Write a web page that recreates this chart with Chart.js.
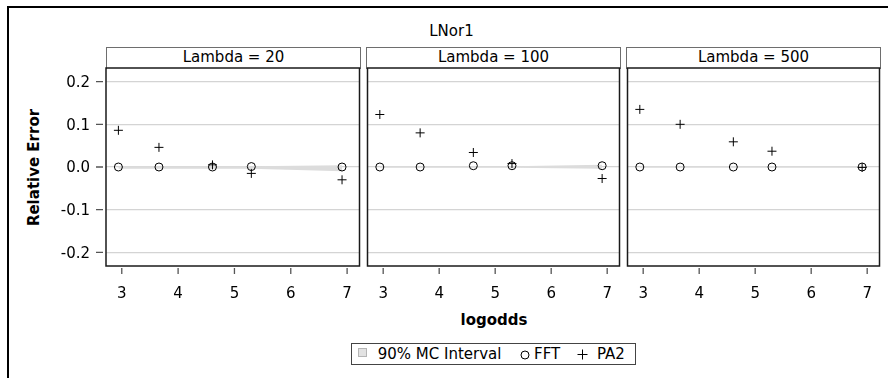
<!DOCTYPE html>
<html>
<head>
<meta charset="utf-8">
<script src="https://cdn.jsdelivr.net/npm/chart.js@4.4.1/dist/chart.umd.min.js"></script>
<style>
  html, body { margin: 0; padding: 0; background: #fff; overflow: hidden; }
  #wrap { position: relative; width: 888px; height: 378px; overflow: hidden;
          font-family: "DejaVu Sans", Verdana, sans-serif; color: #000; }
  .frame { position: absolute; left: 7px; top: 6px; width: 890px; height: 380px;
           border-top: 2px solid #000; border-left: 2px solid #000; box-sizing: border-box; }
  .t { position: absolute; font-size: 15px; line-height: 15px; white-space: nowrap; }
  .b { font-weight: bold; }
  .hdr { position: absolute; top: 47px; height: 22px; box-sizing: border-box;
         border: 1px solid #6e6e6e; border-bottom: none; background: #fff; }
  canvas { position: absolute; }
  .legend { position: absolute; left: 351px; top: 343px; width: 285px; height: 22px;
            box-sizing: border-box; border: 1px solid #444; }
  .sw { position: absolute; left: 358px; top: 348px; width: 9px; height: 9px;
        box-sizing: border-box; background: #e2e2e2; border: 1px solid #b5b5b5; }
  svg.sym { position: absolute; }
</style>
</head>
<body>
<div id="wrap">
  <div class="frame"></div>
  <div class="t" style="left:351.5px; top:24px; width:200px; text-align:center;">LNor1</div>
  <div id="headers"></div>
  <div class="t b" style="left:-31px; top:160px; width:130px; text-align:center; transform:rotate(-90deg); transform-origin:65px 7.5px;">Relative Error</div>
  <div class="t b" style="left:394px; top:313px; width:200px; text-align:center;">logodds</div>

  <div class="legend"></div>
  <div class="sw"></div>
  <div class="t" style="left:377.7px; top:346.6px;">90% MC Interval</div>
  <svg class="sym" style="left:520px; top:349.5px;" width="10" height="10" viewBox="0 0 10 10">
    <circle cx="5" cy="5" r="4" fill="none" stroke="#000" stroke-width="1"/>
  </svg>
  <div class="t" style="left:534px; top:346.6px;">FFT</div>
  <svg class="sym" style="left:577px; top:349px;" width="11" height="11" viewBox="0 0 11 11">
    <path d="M5.5 0.5 V10.5 M0.5 5.5 H10.5" stroke="#000" stroke-width="1" fill="none"/>
  </svg>
  <div class="t" style="left:597px; top:346.6px;">PA2</div>
</div>

<script>
// logodds positions shared by every panel
const logodds = [2.94, 3.66, 4.61, 5.30, 6.91];
const xTicks = [3, 4, 5, 6, 7];
const yTicks = [-0.2, -0.1, 0.0, 0.1, 0.2];
const lambdas = [20, 100, 500];

// Lambda = 20
const fftL20    = [0.000, 0.000, 0.000, 0.001, 0.000];
const pa2L20    = [0.086, 0.046, 0.005, -0.015, -0.030];
const mcLowL20  = [-0.004, -0.004, -0.004, -0.004, -0.010];
const mcHighL20 = [0.002, 0.002, 0.002, 0.002, 0.004];

// Lambda = 100
const fftL100    = [0.000, 0.000, 0.003, 0.003, 0.003];
const pa2L100    = [0.123, 0.080, 0.034, 0.008, -0.027];
const mcLowL100  = [-0.002, -0.002, -0.002, -0.002, -0.004];
const mcHighL100 = [0.002, 0.002, 0.002, 0.002, 0.005];

// Lambda = 500
const fftL500    = [0.000, 0.000, 0.000, 0.000, 0.000];
const pa2L500    = [0.135, 0.100, 0.059, 0.037, -0.001];
const mcLowL500  = [-0.0015, -0.0015, -0.0015, -0.0015, -0.0015];
const mcHighL500 = [0.0015, 0.0015, 0.0015, 0.0015, 0.0015];

const panelSeries = [
  { fft: fftL20,  pa2: pa2L20,  lo: mcLowL20,  hi: mcHighL20 },
  { fft: fftL100, pa2: pa2L100, lo: mcLowL100, hi: mcHighL100 },
  { fft: fftL500, pa2: pa2L500, lo: mcLowL500, hi: mcHighL500 }
];

// page geometry of the three plot areas
const panelLeft = [106, 366, 626];
const panelWidth = 255;
const plotTop = 68, plotBottom = 266;
const xAxisHeight = 40;

Chart.defaults.font.family = '"DejaVu Sans", Verdana, sans-serif';
Chart.defaults.font.size = 15;
Chart.defaults.color = '#000';

const toXY = arr => arr.map((v, i) => ({ x: logodds[i], y: v }));

// tick marks (detached from the frame) and the dark plot frame
const panelDecor = {
  id: 'panelDecor',
  afterDraw(chart, args, opts) {
    const { ctx, chartArea: a, scales } = chart;
    ctx.save();
    ctx.strokeStyle = '#555';
    ctx.lineWidth = 1.3;
    ctx.beginPath();
    scales.x.ticks.forEach(t => {
      const px = scales.x.getPixelForValue(t.value);
      ctx.moveTo(px, a.bottom + 2);
      ctx.lineTo(px, a.bottom + 8);
    });
    if (opts.yTicks) {
      scales.y.ticks.forEach(t => {
        const py = scales.y.getPixelForValue(t.value);
        ctx.moveTo(a.left - 10, py);
        ctx.lineTo(a.left - 3, py);
      });
    }
    ctx.stroke();
    ctx.strokeStyle = '#1a1a1a';
    ctx.lineWidth = 1.5;
    ctx.strokeRect(a.left, a.top, a.right - a.left, a.bottom - a.top);
    ctx.restore();
  }
};

const wrap = document.getElementById('wrap');
const headers = document.getElementById('headers');

lambdas.forEach((lam, p) => {
  const first = p === 0;
  const padL = first ? 0 : 4, padR = 4, padT = 8;
  const yAxisW = first ? panelLeft[0] : 0;
  const cw = padL + yAxisW + panelWidth + padR;
  const ch = padT + (plotBottom - plotTop) + xAxisHeight;

  // strip header above the plot
  const h = document.createElement('div');
  h.className = 'hdr';
  h.style.left = panelLeft[p] + 'px';
  h.style.width = panelWidth + 'px';
  headers.appendChild(h);
  const ht = document.createElement('div');
  ht.className = 't';
  ht.style.left = panelLeft[p] + 'px';
  ht.style.width = panelWidth + 'px';
  ht.style.top = '50px';
  ht.style.textAlign = 'center';
  ht.textContent = 'Lambda = ' + lam;
  headers.appendChild(ht);

  const cv = document.createElement('canvas');
  cv.width = cw; cv.height = ch;
  cv.style.left = (panelLeft[p] - yAxisW - padL) + 'px';
  cv.style.top = (plotTop - padT) + 'px';
  cv.style.width = cw + 'px'; cv.style.height = ch + 'px';
  wrap.appendChild(cv);

  const s = panelSeries[p];
  new Chart(cv, {
    type: 'line',
    data: {
      datasets: [
        { label: '90% MC Interval', data: toXY(s.hi), borderWidth: 0, borderColor: 'rgba(0,0,0,0)',
          pointRadius: 0, fill: '+1', backgroundColor: '#dcdcdc', order: 3 },
        { label: '90% MC Interval low', data: toXY(s.lo), borderWidth: 0, borderColor: 'rgba(0,0,0,0)',
          pointRadius: 0, fill: false, order: 3 },
        { label: 'FFT', data: toXY(s.fft), showLine: false, pointStyle: 'circle', pointRadius: 4,
          pointBorderColor: '#000', pointBackgroundColor: 'rgba(0,0,0,0)', pointBorderWidth: 1, order: 2 },
        { label: 'PA2', data: toXY(s.pa2), showLine: false, pointStyle: 'cross', pointRadius: 4.5,
          pointBorderColor: '#000', pointBorderWidth: 1, order: 1 }
      ]
    },
    options: {
      responsive: false,
      animation: false,
      devicePixelRatio: 1,
      layout: { padding: { left: padL, right: padR, top: padT, bottom: 0 } },
      plugins: { legend: { display: false }, tooltip: { enabled: false }, panelDecor: { yTicks: first } },
      elements: { line: { tension: 0 } },
      scales: {
        x: {
          type: 'linear', min: 2.72, max: 7.22,
          afterBuildTicks: sc => { sc.ticks = xTicks.map(v => ({ value: v })); },
          afterFit: sc => { sc.height = xAxisHeight; sc.paddingLeft = 0; sc.paddingRight = 0; },
          grid: { display: false },
          border: { display: false },
          ticks: { padding: 11, maxRotation: 0, autoSkip: false, callback: v => String(v) }
        },
        y: {
          type: 'linear', min: -0.232, max: 0.232,
          afterBuildTicks: sc => { sc.ticks = yTicks.map(v => ({ value: v })); },
          afterFit: sc => { sc.width = yAxisW; sc.paddingTop = 0; sc.paddingBottom = 0; },
          grid: { color: '#d4d4d4', lineWidth: 1.2, drawTicks: false },
          border: { display: false },
          ticks: { display: first, padding: 16, labelOffset: 1.5, callback: v => v.toFixed(1) }
        }
      }
    },
    plugins: [panelDecor]
  });
});
</script>
</body>
</html>
